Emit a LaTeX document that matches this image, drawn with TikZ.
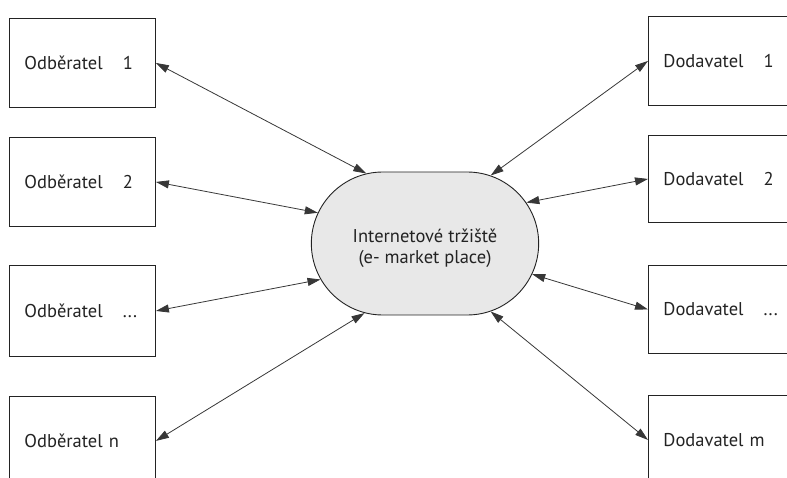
\documentclass[tikz,border=0pt]{standalone}
\usepackage{fontspec}
\setmainfont{PT Sans}
\usetikzlibrary{arrows.meta,shapes.misc}
\definecolor{linec}{RGB}{55,55,55}
\definecolor{boxc}{RGB}{35,35,35}
\definecolor{hubfill}{RGB}{232,232,232}
\begin{document}
\begin{tikzpicture}[x=1pt,y=-1pt,
  lbox/.style={draw=boxc, line width=0.9pt, rectangle, minimum height=89pt,
    text width=116pt, inner xsep=15pt, align=left, font=\fontsize{18.5}{22}\selectfont, text=boxc},
  rbox/.style={lbox, text width=124pt},
  hub/.style={draw=boxc, line width=0.9pt, rounded rectangle, fill=hubfill,
    minimum width=234pt, minimum height=143pt},
  hubtext/.style={align=center, font=\fontsize{18.5}{21}\selectfont, text=boxc, yshift=-5pt},
  arr/.style={draw=linec, line width=0.8pt,
    {Triangle[length=13pt,width=8pt,fill=linec]}-{Triangle[length=13pt,width=8pt,fill=linec]}}
]
\useasboundingbox (0,0) rectangle (787,478);
\clip (0,0) rectangle (787,478);
\node[lbox, anchor=north west] (o1) at (9,18) {Odběratel\hspace{20pt}1};
\node[lbox, anchor=north west] (o2) at (9,137) {Odběratel\hspace{20pt}2};
\node[lbox, anchor=north west, minimum height=91pt] (o3) at (9,265) {Odběratel\hspace{20pt}...};
\node[lbox, anchor=north west] (o4) at (9,396) {Odběratel n};
\node[rbox, anchor=north west] (d1) at (648,16) {Dodavatel\hspace{20pt}1};
\node[rbox, anchor=north west, minimum height=87pt] (d2) at (648,135) {Dodavatel\hspace{20pt}2};
\node[rbox, anchor=north west, minimum height=88pt] (d3) at (648,265) {Dodavatel\hspace{20pt}...};
\node[rbox, anchor=north west] (d4) at (648,395) {Dodavatel m};
\node[hub, label={[hubtext]center:Internetové tržiště\\(e- market place)}] (m) at (425,243.5) {};
\draw[arr] (o1.east) -- (m.130.6);
\draw[arr] (o2.east) -- (m.164.7);
\draw[arr] (o3.east) -- (m.199);
\draw[arr] (o4.east) -- (m.229.4);
\draw[arr] (d1.west) -- (m.46.9);
\draw[arr] (d2.west) -- (m.22.4);
\draw[arr] (d3.west) -- (m.-16.2);
\draw[arr] (d4.west) -- (m.-46.8);
\end{tikzpicture}
\end{document}
